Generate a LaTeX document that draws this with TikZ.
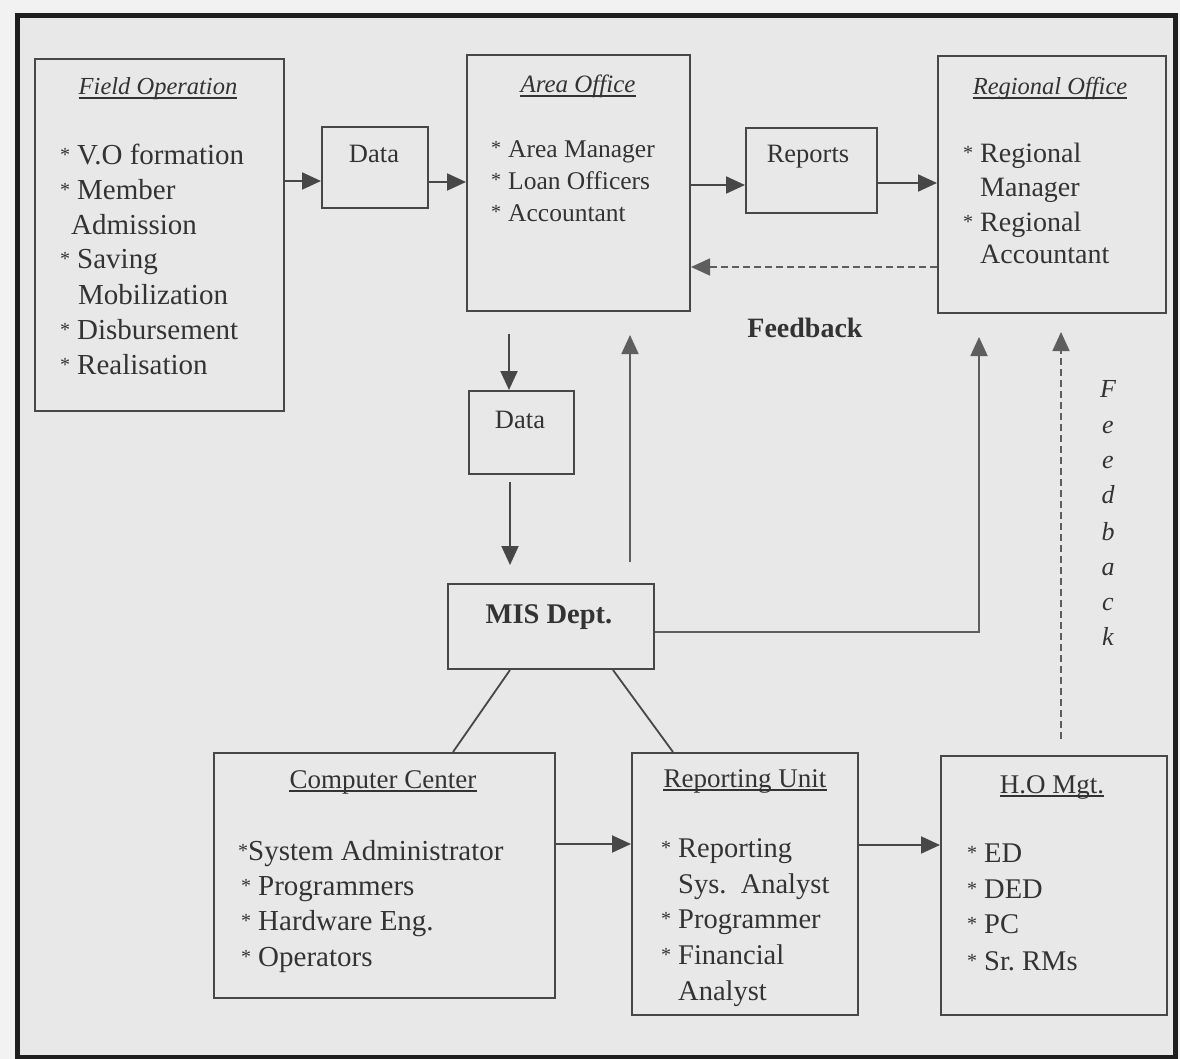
\documentclass[tikz,border=0pt]{standalone}
\usepackage{fontspec}
\setmainfont{Liberation Serif}
\usetikzlibrary{arrows.meta}
\definecolor{bgout}{HTML}{F2F2F2}
\definecolor{bgin}{HTML}{E8E8E8}
\definecolor{txt}{HTML}{333333}
\definecolor{ln}{HTML}{474747}
\definecolor{lng}{HTML}{5E5E5E}
\definecolor{frm}{HTML}{1E1E1E}
\newcommand\fsz[1]{\fontsize{#1}{#1}\selectfont}
\newcommand\bu{\llap{\raisebox{3pt}{\fsz{20}*}\hspace{7pt}}}
\newcommand\bt{\llap{\raisebox{3pt}{\fsz{20}*}}}
\begin{document}
\begin{tikzpicture}[x=1pt,y=-1pt,
 box/.style={draw=ln, line width=2pt, inner sep=0pt, anchor=north west},
 tx/.style={inner sep=0pt, text=txt, anchor=base},
 itm/.style={inner sep=0pt, text=txt, anchor=base west},
 arr/.style={draw=ln, line width=2pt, -{Triangle[length=19pt,width=17pt]}},
 arrg/.style={draw=lng, line width=1.8pt, -{Triangle[length=19pt,width=17pt]}},
 dsh/.style={draw=lng, line width=1.6pt, dash pattern=on 7pt off 4pt, -{Triangle[length=19pt,width=17pt]}},
 conn/.style={draw=ln, line width=1.8pt},
 uline/.style={draw=txt, line width=1.2pt}
]
\useasboundingbox (0,0) rectangle (1180,1059);
\fill[bgout] (0,0) rectangle (1180,1059);
\fill[bgin] (17,16) rectangle (1175,1057);
\draw[line width=5pt, draw=frm] (17,16) rectangle (1175,1057);

% boxes
\node[box, minimum width=249pt, minimum height=352pt] (field) at (34,58) {};
\node[box, minimum width=106pt, minimum height=81pt] (data1) at (321,126) {};
\node[box, minimum width=223pt, minimum height=256pt] (area) at (466,54) {};
\node[box, minimum width=131pt, minimum height=85pt] (reports) at (745,127) {};
\node[box, minimum width=228pt, minimum height=257pt] (regional) at (937,55) {};
\node[box, minimum width=105pt, minimum height=83pt] (data2) at (468,390) {};
\node[box, minimum width=206pt, minimum height=85pt] (mis) at (447,583) {};
\node[box, minimum width=341pt, minimum height=245pt] (cc) at (213,752) {};
\node[box, minimum width=226pt, minimum height=262pt] (rep) at (631,752) {};
\node[box, minimum width=226pt, minimum height=259pt] (ho) at (940,755) {};

% Field Operation
\node[tx, font=\fsz{24.5}\itshape] (fot) at (158,95) {Field Operation};
\draw[uline] ([yshift=-3pt]fot.base west) -- ([yshift=-3pt]fot.base east);
\begin{scope}[every node/.style={itm, font=\fsz{29}}]
\node (fo1) at (77,165) {\bu V.O formation};
\node (fo2) at (77,200) {\bu Member};
\node (fo3) at (71,235) {Admission};
\node (fo4) at (77,269) {\bu Saving};
\node (fo5) at (78,304) {Mobilization};
\node (fo6) at (77,339) {\bu Disbursement};
\node (fo7) at (77,374) {\bu Realisation};
\end{scope}

% Data boxes, Reports
\node[tx, font=\fsz{26.5}] (d1t) at (374,163) {Data};
\node[tx, font=\fsz{26.5}] (rpt) at (808,163) {Reports};
\node[tx, font=\fsz{26.5}] (d2t) at (520,428) {Data};

% Area Office
\node[tx, font=\fsz{25}\itshape] (aot) at (578,93) {Area Office};
\draw[uline] ([yshift=-3pt]aot.base west) -- ([yshift=-3pt]aot.base east);
\begin{scope}[every node/.style={itm, font=\fsz{25.5}}]
\node (ao1) at (508,158) {\bu Area Manager};
\node (ao2) at (508,190) {\bu Loan Officers};
\node (ao3) at (508,222) {\bu Accountant};
\end{scope}

% Regional Office
\node[tx, font=\fsz{24.5}\itshape] (rot) at (1050,95) {Regional Office};
\draw[uline] ([yshift=-3pt]rot.base west) -- ([yshift=-3pt]rot.base east);
\begin{scope}[every node/.style={itm, font=\fsz{28}}]
\node (ro1) at (980,163) {\bu Regional};
\node (ro2) at (980,197) {Manager};
\node (ro3) at (980,232) {\bu Regional};
\node (ro4) at (980,264) {Accountant};
\end{scope}

% Feedback labels
\node[tx, font=\fsz{28}\bfseries] (fbh) at (805,337) {Feedback};
\foreach \l/\yy [count=\i] in {F/397,e/433,e/468,d/503,b/540,a/575,c/610,k/645}
  \node[tx, font=\fsz{26}\itshape] (fb\i) at (1108,\yy) {\l};

% MIS
\node[tx, font=\fsz{28.5}\bfseries] (mist) at (549,623) {MIS Dept.};

% Computer Center
\node[tx, font=\fsz{27}] (cct) at (383,788) {Computer Center};
\draw[uline] ([yshift=-3pt]cct.base west) -- ([yshift=-3pt]cct.base east);
\begin{scope}[every node/.style={itm, font=\fsz{29}}]
\node (cc1) at (248,860) {\bt System Administrator};
\node (cc2) at (258,895) {\bu Programmers};
\node (cc3) at (258,930) {\bu Hardware Eng.};
\node (cc4) at (258,966) {\bu Operators};
\end{scope}

% Reporting Unit
\node[tx, font=\fsz{27}] (rut) at (745,787) {Reporting Unit};
\draw[uline] ([yshift=-3pt]rut.base west) -- ([yshift=-3pt]rut.base east);
\begin{scope}[every node/.style={itm, font=\fsz{28.5}}]
\node (ru1) at (678,857) {\bu Reporting};
\node (ru2) at (678,893) {Sys.\ \ Analyst};
\node (ru3) at (678,928) {\bu Programmer};
\node (ru4) at (678,964) {\bu Financial};
\node (ru5) at (678,1000) {Analyst};
\end{scope}

% H.O Mgt
\node[tx, font=\fsz{27}] (hot) at (1052,793) {H.O Mgt.};
\draw[uline] ([yshift=-3pt]hot.base west) -- ([yshift=-3pt]hot.base east);
\begin{scope}[every node/.style={itm, font=\fsz{28.5}}]
\node (ho1) at (984,862) {\bu ED};
\node (ho2) at (984,898) {\bu DED};
\node (ho3) at (984,933) {\bu PC};
\node (ho4) at (984,970) {\bu Sr.\ RMs};
\end{scope}

% connectors
\draw[arr] (field.east |- 0,181) -- (data1.west |- 0,181);
\draw[arr] (data1.east |- 0,182) -- (area.west |- 0,182);
\draw[arr] (area.east |- 0,185) -- (reports.west |- 0,185);
\draw[arr] (reports.east |- 0,183) -- (regional.west |- 0,183);
\draw[dsh] (regional.west |- 0,267) -- (area.east |- 0,267);
\draw[arr, shorten <=22pt] (area.south -| 509,0) -- (data2.north -| 509,0);
\draw[arr, shorten <=7pt, shorten >=18pt] (data2.south -| 510,0) -- (mis.north -| 510,0);
\draw[arrg, shorten <=21pt, shorten >=23pt] (mis.north -| 630,0) -- (area.south -| 630,0);
\draw[arrg, shorten >=23pt] (mis.east |- 0,632) -| (regional.south -| 979,0);
\draw[dsh, shorten <=16pt, shorten >=18pt] (ho.north -| 1061,0) -- (regional.south -| 1061,0);
\draw[conn] (mis.south -| 510,0) -- (cc.north -| 453,0);
\draw[conn] (mis.south -| 613,0) -- (rep.north -| 673,0);
\draw[arr] (cc.east |- 0,844) -- (rep.west |- 0,844);
\draw[arr] (rep.east |- 0,845) -- (ho.west |- 0,845);
\end{tikzpicture}
\end{document}
